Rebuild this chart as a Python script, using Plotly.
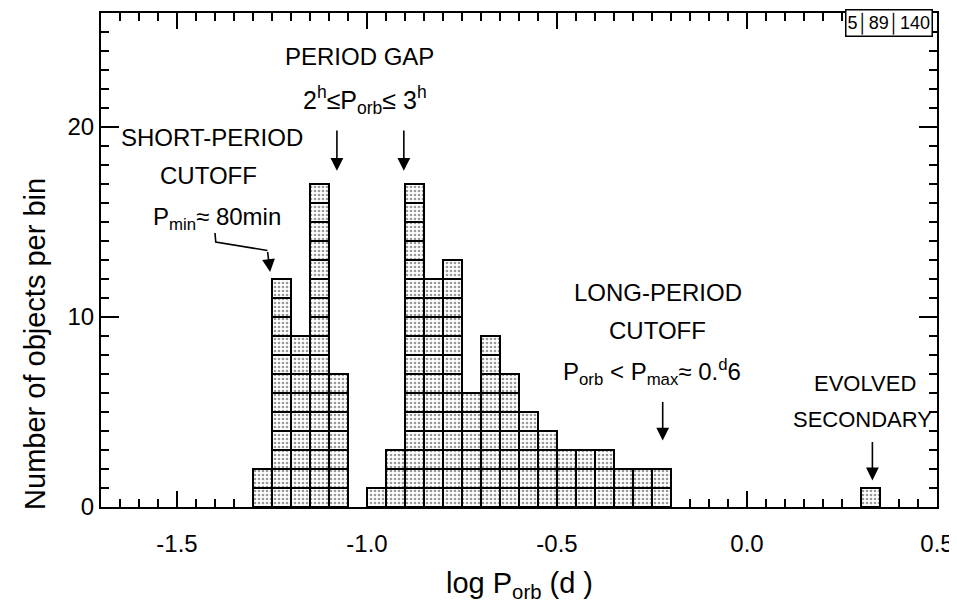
import numpy as np
import plotly.graph_objects as go

# histogram of orbital periods, bins of 0.05 in log P (left edges)
bin_left = [-1.30, -1.25, -1.20, -1.15, -1.10,
            -1.00, -0.95, -0.90, -0.85, -0.80, -0.75, -0.70, -0.65,
            -0.60, -0.55, -0.50, -0.45, -0.40, -0.35, -0.30, -0.25,
            0.30]
counts = [2, 12, 9, 17, 7,
          1, 3, 17, 12, 13, 6, 9, 7,
          5, 4, 3, 3, 3, 2, 2, 2,
          1]
bin_width = 0.05

x_tick_vals = [-1.5, -1.0, -0.5, 0.0, 0.5]
x_tick_text = ["-1.5", "-1.0", "-0.5", "0.0", "0.5"]
y_tick_vals = [0, 10, 20]
y_tick_text = ["0", "10", "20"]

FONT = "Liberation Sans Narrow, Liberation Sans, Arial, sans-serif"

# one unit square per object, stacked within each bin
centers = np.array(bin_left) + bin_width / 2
box_x = np.repeat(centers, counts)
box_base = np.concatenate([np.arange(c) for c in counts])
box_y = np.ones(len(box_x))

fig = go.Figure()
fig.add_trace(go.Bar(x=box_x, y=box_y, base=box_base, width=bin_width,
                     marker=dict(color='white',
                                 line=dict(color='black', width=2),
                                 pattern=dict(shape='.', size=4, solidity=0.35,
                                              fgcolor='#333', bgcolor='white')),
                     showlegend=False, hoverinfo='skip'))

annots = []
def label(x, y, text, size=24):
    annots.append(dict(x=x, y=y, xref='x', yref='y', text=text, showarrow=False,
                       xanchor='center', yanchor='middle',
                       font=dict(size=size, color='black', family=FONT)))

def arrow(x, y_tail, y_tip, x_tail=None):
    annots.append(dict(x=x, y=y_tip, ax=x if x_tail is None else x_tail, ay=y_tail,
                       xref='x', yref='y', axref='x', ayref='y', text='',
                       showarrow=True, arrowhead=2, arrowsize=1.6, arrowwidth=1.6,
                       arrowcolor='black'))

label(-1.408, 19.45, "SHORT-PERIOD")
label(-1.416, 17.45, "CUTOFF")
label(-1.395, 15.2, "P<sub>min</sub>≈ 80min")
label(-1.02, 23.7, "PERIOD GAP")
label(-1.005, 21.4, "2<sup>h</sup>≤P<sub>orb</sub>≤ 3<sup>h</sup>", size=25)
label(-0.235, 11.3, "LONG-PERIOD")
label(-0.235, 9.3, "CUTOFF")
label(-0.25, 7.1, "P<sub>orb</sub> < P<sub>max</sub>≈ 0.<sup>d</sup>6")
label(0.31, 6.5, "EVOLVED", size=22)
label(0.305, 4.6, "SECONDARY", size=22)

arrow(np.log10(2 / 24), 19.9, 17.7)
arrow(np.log10(3 / 24), 19.9, 17.7)
arrow(np.log10(0.6), 5.6, 3.5)
arrow(0.33, 3.5, 1.4)
arrow(-1.255, 13.5, 12.37, x_tail=-1.262)

# hook of the short-period arrow
fig.add_shape(type='path', xref='x', yref='y',
              path='M -1.400 14.42 L -1.398 13.95 L -1.262 13.5',
              line=dict(color='black', width=1.6))

annots.append(dict(x=0.9426, y=1.009, xref='paper', yref='paper', text="5│89│140",
                   showarrow=False, xanchor='center', yanchor='top',
                   bordercolor='black', borderwidth=1.5,
                   bgcolor='white', borderpad=1,
                   font=dict(size=18, color='black', family=FONT)))
annots.append(dict(x=-0.079, y=0.33, xref='paper', yref='paper',
                   xanchor='center', yanchor='middle',
                   text="Number of objects per bin", textangle=-90, showarrow=False,
                   font=dict(size=29, color='black', family=FONT)))
annots.append(dict(x=0.5, y=-0.158, xref='paper', yref='paper',
                   xanchor='center', yanchor='middle',
                   text="log P<sub>orb</sub> (d )", showarrow=False,
                   font=dict(size=29, color='black', family=FONT)))

# page body has an 8px margin, so the figure is sized and offset to match
fig.update_layout(
    width=949, height=595,
    margin=dict(l=93, r=20, t=5, b=96, autoexpand=False),
    paper_bgcolor='white', plot_bgcolor='white',
    barmode='overlay', bargap=0,
    annotations=annots,
    font=dict(family=FONT, color='black'),
)
fig.update_xaxes(range=[-1.7, 0.5], tickvals=x_tick_vals, ticktext=x_tick_text,
                 ticks='inside', ticklen=16, tickwidth=1.5, tickcolor='black',
                 minor=dict(dtick=0.05, tick0=0, ticks='inside', ticklen=8,
                            tickwidth=1.5, tickcolor='black'),
                 showline=True, linecolor='black', linewidth=2, mirror='allticks',
                 showgrid=False, zeroline=False, ticklabelstandoff=14,
                 automargin=False,
                 tickfont=dict(size=24, family=FONT))
fig.update_yaxes(range=[0, 26], tickvals=y_tick_vals, ticktext=y_tick_text,
                 ticks='inside', ticklen=18, tickwidth=1.5, tickcolor='black',
                 minor=dict(dtick=1, tick0=0, ticks='inside', ticklen=8,
                            tickwidth=1.5, tickcolor='black'),
                 showline=True, linecolor='black', linewidth=2, mirror='allticks',
                 showgrid=False, zeroline=False, automargin=False,
                 tickfont=dict(size=24, family=FONT))

fig.write_html("out.html")
